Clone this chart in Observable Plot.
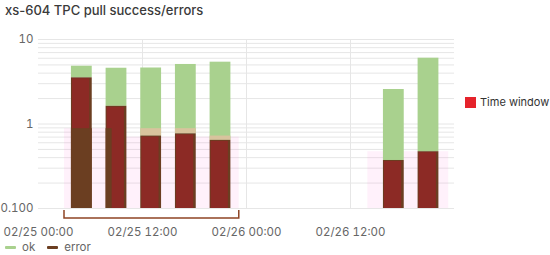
<!DOCTYPE html>
<html>
<head>
<meta charset="utf-8">
<script src="https://cdn.jsdelivr.net/npm/d3@7"></script>
<script src="https://cdn.jsdelivr.net/npm/@observablehq/plot@0.6"></script>
<style>
  html, body { margin: 0; padding: 0; background: #fff; }
  #wrap { position: relative; width: 550px; height: 255px; overflow: hidden; font-family: Inter, "Noto Sans", sans-serif; }
  #title { position: absolute; left: 5px; top: 2px; font-size: 13px; font-weight: 500; color: #3a3a3a; white-space: nowrap; }
  #chart { position: absolute; left: 0; top: 0; }
  #legend { position: absolute; left: 5px; top: 240px; font-size: 11.5px; color: #666; display: flex; align-items: center; white-space: nowrap; }
  #legend .sw { display: inline-block; width: 11px; height: 3px; border-radius: 1px; margin-right: 6px; }
  #legend .item { display: flex; align-items: center; margin-right: 12px; }
  #tw { position: absolute; left: 465px; top: 95px; font-size: 11px; color: #333; display: flex; align-items: center; white-space: nowrap; }
  #tw .sq { display: inline-block; width: 11px; height: 11px; background: #e5232b; margin-right: 4px; }
</style>
</head>
<body>
<div id="wrap">
  <div id="chart"></div>
  <div id="title"></div>
  <div id="tw"></div>
  <div id="legend"></div>
</div>
<script>
// ---- data ----
const titleText = "xs-604 TPC pull success/errors";
const barTimes = ["2025-02-25T05:00Z", "2025-02-25T09:00Z", "2025-02-25T13:00Z", "2025-02-25T17:00Z", "2025-02-25T21:00Z", "2025-02-26T17:00Z", "2025-02-26T21:00Z"];
const okValues = [1.31, 2.95, 3.88, 4.30, 4.75, 2.19, 5.54];
const errorValues = [3.52, 1.62, 0.72, 0.765, 0.64, 0.37, 0.47];
const overlapTop = [null, null, 0.88, 0.88, 0.72, null, null];
const windowStarts = ["2025-02-25T03:00Z", "2025-02-25T08:30Z", "2025-02-26T14:00Z"];
const windowEnds = ["2025-02-25T08:30Z", "2025-02-25T23:10Z", "2025-02-26T23:20Z"];
const windowTops = [0.88, 0.70, 0.47];
const bracketStart = "2025-02-25T03:00Z";
const bracketEnd = "2025-02-25T23:10Z";
const xDomain = ["2025-02-25T00:00Z", "2025-02-27T00:00Z"];
const xTicks = ["2025-02-25T00:00Z", "2025-02-25T12:00Z", "2025-02-26T00:00Z", "2025-02-26T12:00Z"];
const yDomain = [0.1, 10];
const yTicks = [0.1, 1, 10];
const yTickLabels = ["0.100", "1", "10"];
const seriesNames = ["ok", "error"];
const windowLabel = "Time window";

// ---- colors ----
const cOk = "#a9d18e", cErr = "#8c2a25", cDark = "#6b3e21", cTan = "#d8c39d";

const H = 3600 * 1000;
const halfW = 1.2 * H;
const bars = barTimes.map((t, i) => {
  const d = new Date(t);
  return { x1: new Date(+d - halfW), x2: new Date(+d + halfW), ok: okValues[i], err: errorValues[i], total: okValues[i] + errorValues[i], tan: overlapTop[i] };
});
const windows = windowStarts.map((s, i) => ({ x1: new Date(s), x2: new Date(windowEnds[i]), top: windowTops[i] }));
// dark part: error bars inside the first time window
const w0 = windows[0];
const dark = bars.map(b => ({
  x1: new Date(Math.max(+b.x1, +w0.x1)), x2: new Date(Math.min(+b.x2, +w0.x2)), top: Math.min(b.err, w0.top)
})).filter(d => d.x2 > d.x1);
const tanBars = bars.filter(b => b.tan != null && b.tan > b.err);

const yGrid = d3.scaleLog().domain(yDomain).ticks();

const chart = Plot.plot({
  width: 550,
  height: 242,
  marginTop: 39,
  marginBottom: 34,
  marginLeft: 38,
  marginRight: 96,
  style: { fontFamily: "Inter, 'Noto Sans', sans-serif", fontSize: "11.5px", color: "#666", background: "transparent", overflow: "visible" },
  x: { type: "utc", domain: xDomain.map(d => new Date(d)), ticks: xTicks.map(d => new Date(d)), tickFormat: d3.utcFormat("%m/%d %H:%M"), tickSize: 0, tickPadding: 19, label: null },
  y: { type: "log", domain: yDomain, ticks: yTicks, tickFormat: (d) => yTickLabels[yTicks.indexOf(d)] ?? "", tickSize: 0, tickPadding: 5, label: null },
  marks: [
    Plot.ruleY(yGrid, { stroke: "#e6e6e6", strokeWidth: 1 }),
    Plot.ruleX(xTicks.slice(1).map(d => new Date(d)), { y1: yDomain[0], y2: yDomain[1], stroke: "#e6e6e6" }),
    Plot.rect(windows, { x1: "x1", x2: "x2", y1: yDomain[0], y2: "top", fill: "#ff5fd8", fillOpacity: 0.09 }),
    Plot.rect(bars, { x1: "x1", x2: "x2", y1: "err", y2: "total", fill: cOk }),
    Plot.rect(tanBars, { x1: "x1", x2: "x2", y1: "err", y2: "tan", fill: cTan }),
    Plot.rect(bars, { x1: "x1", x2: "x2", y1: yDomain[0], y2: "err", fill: cDark }),
    Plot.rect(bars, { x1: "x1", x2: "x2", y1: yDomain[0], y2: "err", fill: cErr, insetLeft: 1, insetRight: 2.5, insetTop: 1 }),
    Plot.rect(dark, { x1: "x1", x2: "x2", y1: yDomain[0], y2: "top", fill: cDark })
  ]
});
document.getElementById("chart").appendChild(chart);

// bracket under the first time window, positioned through the plot's scales
const xs = chart.scale("x"), ys = chart.scale("y");
const bx1 = xs.apply(new Date(bracketStart)), bx2 = xs.apply(new Date(bracketEnd));
const by = ys.apply(yDomain[0]);
d3.select(chart).append("path")
  .attr("d", `M${bx1},${by + 2}V${by + 10}H${bx2}V${by + 2}`)
  .attr("fill", "none").attr("stroke", "#8e4424").attr("stroke-width", 1.5);

d3.select(chart).selectAll("g[aria-label='x-axis tick label'] text, g[aria-label='y-axis tick label'] text").attr("fill", "#666");

document.getElementById("title").textContent = titleText;
document.getElementById("tw").innerHTML = `<span class="sq"></span><span>${windowLabel}</span>`;
const legColors = [cOk, cDark];
document.getElementById("legend").innerHTML = seriesNames.map((n, i) =>
  `<span class="item"><span class="sw" style="background:${legColors[i]}"></span>${n}</span>`).join("");
</script>
</body>
</html>
